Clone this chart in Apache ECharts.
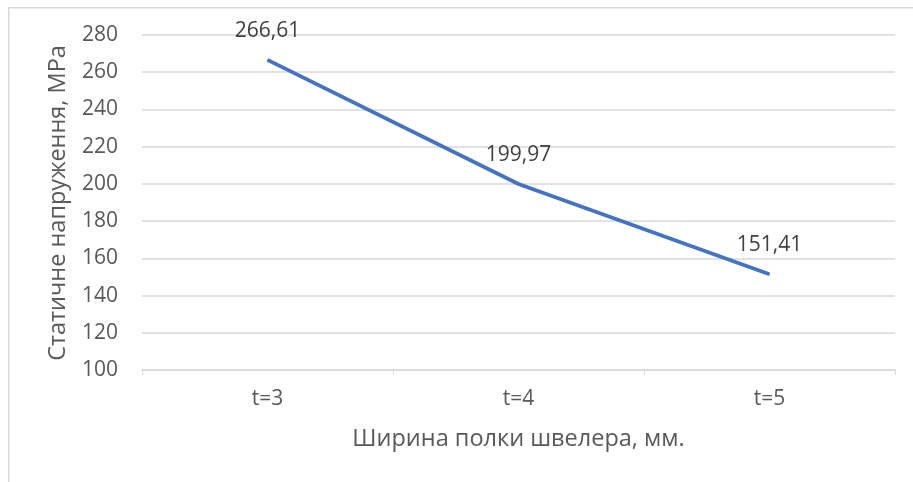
<!DOCTYPE html>
<html><head><meta charset="utf-8">
<script src="https://cdn.jsdelivr.net/npm/echarts@6/dist/echarts.min.js"></script>
<style>html,body{margin:0;padding:0;background:#fff}#c{width:913px;height:482px}</style>
</head><body><div id="c"></div>
<script>
const categories = ['t=3', 't=4', 't=5'];
const stressValues = [266.61, 199.97, 151.41];
const yAxisName = 'Статичне напруження, МРа';
const xAxisName = 'Ширина полки швелера, мм.';

const chart = echarts.init(document.getElementById('c'));
const font = '"Open Sans", "Noto Sans", sans-serif';
chart.setOption({
  animation: false,
  textStyle: { fontFamily: font },
  graphic: [{
    type: 'rect', left: 8, top: 7, z: -1,
    shape: { width: 920, height: 490 },
    style: { fill: '#fff', stroke: '#d9d9d9', lineWidth: 1.5 }
  }, {
    type: 'text', x: 58, y: 203, rotation: Math.PI / 2,
    style: {
      text: yAxisName, fill: '#595959', font: '23.5px ' + font,
      textAlign: 'center', textVerticalAlign: 'middle'
    }
  }],
  grid: { left: 142, right: 18, top: 35, bottom: 112 },
  xAxis: {
    type: 'category', data: categories, boundaryGap: true,
    name: xAxisName, nameLocation: 'middle', nameGap: 57,
    nameTextStyle: { color: '#595959', fontSize: 23.5, fontFamily: font },
    axisLine: { lineStyle: { color: '#d9d9d9', width: 1.5 } },
    axisTick: { show: true, alignWithLabel: false, length: 5, lineStyle: { color: '#d9d9d9' } },
    axisLabel: { color: '#595959', fontSize: 21, margin: 19, fontFamily: font }
  },
  yAxis: {
    type: 'value', min: 100, max: 280, interval: 20,
    axisLine: { show: false }, axisTick: { show: false },
    axisLabel: { color: '#595959', fontSize: 21, margin: 24, fontFamily: font },
    splitLine: { lineStyle: { color: '#d9d9d9', width: 1.5 } }
  },
  series: [{
    type: 'line', data: stressValues, symbol: 'circle', symbolSize: 1, showSymbol: true,
    itemStyle: { color: '#4472C4' },
    lineStyle: { color: '#4472C4', width: 3.8 },
    label: {
      show: true, position: 'top', distance: 18,
      color: '#404040', fontSize: 21, fontFamily: font,
      formatter: p => p.value.toFixed(2).replace('.', ',')
    }
  }]
});
</script></body></html>
